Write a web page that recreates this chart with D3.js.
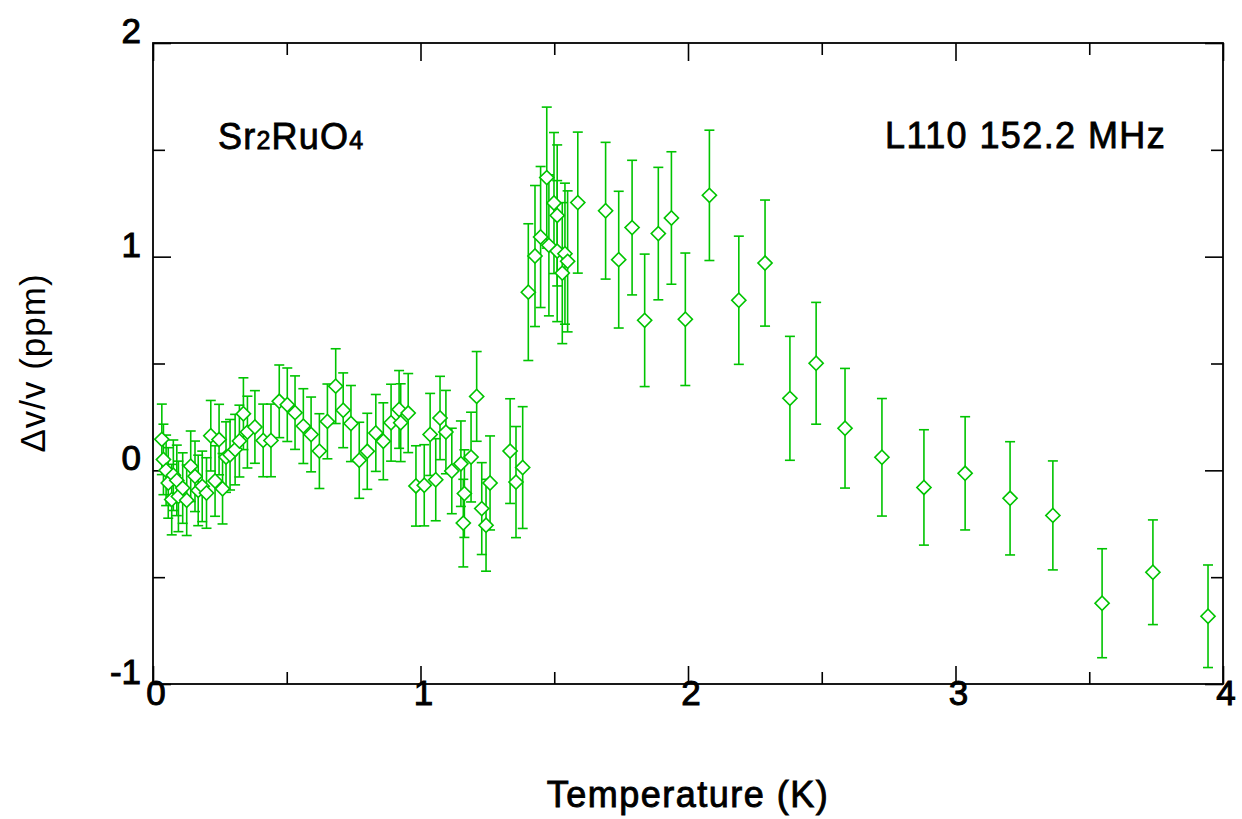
<!DOCTYPE html>
<html lang="en">
<head>
  <meta charset="UTF-8">
  <title>Sr2RuO4 sound velocity</title>
  <script src="https://d3js.org/d3.v7.min.js"></script>
  <style>
    body { margin: 0; background: #fff; }
    text { font-family: "Liberation Sans", Arial, sans-serif; fill: #000; }
  </style>
</head>
<body>
  <svg id="chart"></svg>

  <script>
    // Temperature (K)
    const temps = [
      0.033, 0.039, 0.049, 0.057, 0.070, 0.076, 0.089, 0.095, 0.111, 0.126,
      0.141, 0.157, 0.169, 0.184, 0.200, 0.216, 0.232, 0.247, 0.260, 0.273,
      0.288, 0.307, 0.323, 0.338, 0.353, 0.381, 0.412, 0.441, 0.472, 0.502,
      0.531, 0.562, 0.591, 0.622, 0.652, 0.683, 0.711, 0.740, 0.771, 0.801,
      0.833, 0.861, 0.890, 0.920, 0.926, 0.954, 0.983, 1.014, 1.036, 1.057,
      1.073, 1.095, 1.117, 1.151, 1.160, 1.164, 1.189, 1.210, 1.229, 1.245,
      1.260, 1.335, 1.357, 1.382, 1.403, 1.428, 1.449, 1.472, 1.480, 1.499,
      1.511, 1.511, 1.530, 1.540, 1.550, 1.588, 1.692, 1.741, 1.791, 1.838,
      1.889, 1.938, 1.990, 2.080, 2.190, 2.288, 2.381, 2.479, 2.587, 2.725,
      2.882, 3.036, 3.204, 3.364, 3.548, 3.738, 3.944
    ];
    // dv/v (ppm)
    const dvv = [
      0.145, 0.051, 0.000, -0.059, -0.137, -0.023, -0.047, -0.122, -0.083, -0.140,
      0.019, -0.028, -0.094, -0.075, -0.106, 0.162, -0.050, 0.144, -0.086, 0.062,
      0.073, 0.097, 0.137, 0.265, 0.179, 0.203, 0.140, 0.140, 0.323, 0.307,
      0.270, 0.207, 0.168, 0.090, 0.229, 0.394, 0.281, 0.219, 0.047, 0.089,
      0.175, 0.136, 0.223, 0.285, 0.223, 0.268, -0.073, -0.070, 0.168, -0.044,
      0.245, 0.179, -0.003, 0.031, -0.247, -0.109, 0.062, 0.346, -0.179, -0.257,
      -0.059, 0.090, -0.055, 0.013, 0.834, 1.003, 1.092, 1.370, 1.053, 1.251,
      1.193, 1.026, 0.923, 1.014, 0.978, 1.253, 1.215, 0.986, 1.136, 0.702,
      1.108, 1.181, 0.707, 1.287, 0.796, 0.970, 0.337, 0.501, 0.197, 0.061,
      -0.080, -0.014, -0.131, -0.211, -0.622, -0.477, -0.683
    ];
    // error bar half-heights (ppm)
    const errs = [
      0.165, 0.165, 0.165, 0.165, 0.165, 0.165, 0.165, 0.165, 0.165, 0.165,
      0.165, 0.165, 0.165, 0.165, 0.165, 0.165, 0.165, 0.165, 0.165, 0.165,
      0.165, 0.165, 0.168, 0.168, 0.168, 0.170, 0.170, 0.170, 0.170, 0.172,
      0.172, 0.175, 0.175, 0.175, 0.175, 0.175, 0.175, 0.178, 0.178, 0.178,
      0.180, 0.180, 0.180, 0.182, 0.182, 0.185, 0.188, 0.190, 0.192, 0.192,
      0.195, 0.195, 0.200, 0.200, 0.205, 0.205, 0.210, 0.210, 0.215, 0.215,
      0.220, 0.245, 0.260, 0.285, 0.320, 0.330, 0.330, 0.330, 0.330, 0.330,
      0.330, 0.330, 0.330, 0.330, 0.330, 0.330, 0.320, 0.320, 0.315, 0.310,
      0.310, 0.310, 0.310, 0.305, 0.300, 0.295, 0.290, 0.285, 0.280, 0.275,
      0.270, 0.265, 0.265, 0.255, 0.255, 0.245, 0.240
    ];

    const xTickLabels = ["0", "1", "2", "3", "4"];
    const yTickLabels = ["-1", "0", "1", "2"];
    const xMinor = [0.5, 1.5, 2.5, 3.5];
    const yMinor = [-0.5, 0.5, 1.5];

    const W = 1242, H = 819;
    const margin = { top: 43, right: 19, bottom: 135, left: 153 };
    const width = W - margin.left - margin.right;
    const height = H - margin.top - margin.bottom;
    const green = "#00c400";

    const root = d3.select("#chart").attr("width", W).attr("height", H);
    const svg = root.append("g")
      .attr("transform", `translate(${margin.left},${margin.top})`);

    const x = d3.scaleLinear().domain([0, 4]).range([0, width]);
    const y = d3.scaleLinear().domain([-1, 2]).range([height, 0]);

    // inward ticks on all four sides
    function ticks(axisFn, vals, len, tr) {
      const g = svg.append("g").attr("transform", tr)
        .call(axisFn.tickValues(vals).tickSize(-len).tickSizeOuter(0).tickFormat(""));
      g.select(".domain").remove();
      g.selectAll("line").attr("stroke", "#000").attr("stroke-width", 1.6);
    }
    const xMaj = xTickLabels.map(Number), yMaj = yTickLabels.map(Number);
    ticks(d3.axisBottom(x), xMaj, 18, `translate(0,${height})`);
    ticks(d3.axisBottom(x), xMinor, 12, `translate(0,${height})`);
    ticks(d3.axisTop(x), xMaj, 18, "translate(0,0)");
    ticks(d3.axisTop(x), xMinor, 12, "translate(0,0)");
    ticks(d3.axisLeft(y), yMaj, 18, "translate(0,0)");
    ticks(d3.axisLeft(y), yMinor, 12, "translate(0,0)");
    ticks(d3.axisRight(y), yMaj, 18, `translate(${width},0)`);
    ticks(d3.axisRight(y), yMinor, 12, `translate(${width},0)`);

    svg.append("rect")
      .attr("width", width).attr("height", height)
      .attr("fill", "none").attr("stroke", "#000").attr("stroke-width", 1.8);

    // tick labels
    const lblStyle = sel => sel.style("font-size", "35px")
      .attr("stroke", "#000").attr("stroke-width", 1);
    svg.selectAll(".xl").data(xTickLabels).enter().append("text")
      .attr("x", d => x(+d) + 3).attr("y", height + 21)
      .attr("text-anchor", "middle").text(d => d).call(lblStyle);
    svg.selectAll(".yl").data(yTickLabels).enter().append("text")
      .attr("x", -12).attr("y", d => y(+d))
      .attr("text-anchor", "end").text(d => d).call(lblStyle);

    // error bars
    const pts = temps.map((t, i) => ({ t, v: dvv[i], e: errs[i] }));
    const eb = svg.append("g").attr("stroke", green).attr("stroke-width", 1.6);
    eb.selectAll(".bar").data(pts).enter().append("line")
      .attr("x1", d => x(d.t)).attr("x2", d => x(d.t))
      .attr("y1", d => y(d.v + d.e)).attr("y2", d => y(d.v - d.e));
    [1, -1].forEach(s => {
      eb.selectAll(".cap" + s).data(pts).enter().append("line")
        .attr("x1", d => x(d.t) - 5).attr("x2", d => x(d.t) + 5)
        .attr("y1", d => y(d.v + s * d.e)).attr("y2", d => y(d.v + s * d.e));
    });

    // open diamonds
    const diamond = d3.symbol().type(d3.symbolSquare).size(100);
    svg.append("g").selectAll("path").data(pts).enter().append("path")
      .attr("d", diamond)
      .attr("transform", d => `translate(${x(d.t)},${y(d.v)}) rotate(45)`)
      .attr("fill", "#fff").attr("stroke", green).attr("stroke-width", 1.6);

    // annotations
    const ann = root.append("text").attr("x", 218).attr("y", 149)
      .style("font-size", "36px").attr("stroke", "#000").attr("stroke-width", 0.8)
      .style("letter-spacing", "1.2px");
    ann.append("tspan").text("Sr");
    ann.append("tspan").style("font-size", "25px").text("2");
    ann.append("tspan").text("RuO");
    ann.append("tspan").style("font-size", "25px").text("4");

    root.append("text").attr("x", 885).attr("y", 148)
      .style("font-size", "36px").attr("stroke", "#000").attr("stroke-width", 0.8)
      .style("letter-spacing", "1.4px")
      .text("L110 152.2 MHz");

    // axis titles
    root.append("text")
      .attr("x", 688).attr("y", 807)
      .attr("text-anchor", "middle")
      .style("font-size", "36px").attr("stroke", "#000").attr("stroke-width", 0.9)
      .style("letter-spacing", "1.5px")
      .text("Temperature (K)");

    root.append("text")
      .attr("transform", "translate(45,363) rotate(-90)")
      .attr("text-anchor", "middle")
      .style("font-size", "35px")
      .style("letter-spacing", "1px")
      .text("Δv/v (ppm)");
  </script>
</body>
</html>
